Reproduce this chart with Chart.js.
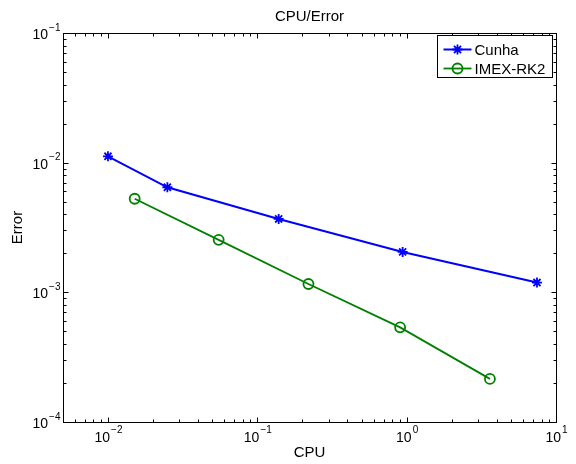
<!DOCTYPE html>
<html>
<head>
<meta charset="utf-8">
<script src="https://cdn.jsdelivr.net/npm/chart.js@4/dist/chart.umd.min.js"></script>
<style>
  html, body { margin: 0; padding: 0; background: #fff; }
  #wrap { width: 576px; height: 464px; }
</style>
</head>
<body>
<div id="wrap"><canvas id="chart" width="576" height="464"></canvas></div>
<script>
// values
const chartTitle = "CPU/Error";
const seriesNames = ["Cunha", "IMEX-RK2"];
const cunhaCpu = [0.01, 0.025, 0.139, 0.94, 7.46];
const cunhaError = [0.0112, 0.00646, 0.00368, 0.00205, 0.00119];
const imexCpu = [0.0151, 0.0551, 0.220, 0.904, 3.61];
const imexError = [0.00527, 0.00254, 0.00116, 0.000537, 0.000215];
const xTickExponents = [-2, -1, 0, 1];
const yTickExponents = [-4, -3, -2, -1];

const fontFamily = "'Liberation Sans', Arial, Helvetica, sans-serif";

function toPoints(xs, ys) {
    return xs.map((x, i) => ({ x: x, y: ys[i] }));
}

function expText(e) {
    return e < 0 ? "\u2212" + Math.abs(e) : String(e);
}

// title, box, inward ticks on all four sides, and 10^n tick labels
const matlabAxes = {
    id: "matlabAxes",
    afterDraw(chart) {
        const ctx = chart.ctx;
        const area = chart.chartArea;
        const xs = chart.scales.x, ys = chart.scales.y;
        ctx.save();

        ctx.fillStyle = "#000";
        ctx.font = "15px " + fontFamily;
        ctx.textAlign = "center";
        ctx.textBaseline = "middle";
        ctx.fillText(chartTitle, (area.left + area.right) / 2, 17);

        ctx.strokeStyle = "#000";
        ctx.lineWidth = 1;
        const L = Math.round(area.left) + 0.5, R = Math.round(area.right) + 0.5;
        const T = Math.round(area.top) + 0.5, B = Math.round(area.bottom) + 0.5;
        ctx.strokeRect(L, T, R - L, B - T);

        ctx.beginPath();
        for (let e = -4; e <= 1; e++) {
            for (let m = 1; m <= 9; m++) {
                const v = m * Math.pow(10, e);
                const len = m === 1 ? 5 : 3;
                if (v >= xs.min * 0.999 && v <= xs.max * 1.001) {
                    const px = Math.round(xs.getPixelForValue(v)) + 0.5;
                    ctx.moveTo(px, B); ctx.lineTo(px, B - len);
                    ctx.moveTo(px, T); ctx.lineTo(px, T + len);
                }
                if (v >= ys.min * 0.999 && v <= ys.max * 1.001) {
                    const py = Math.round(ys.getPixelForValue(v)) + 0.5;
                    ctx.moveTo(L, py); ctx.lineTo(L + len, py);
                    ctx.moveTo(R, py); ctx.lineTo(R - len, py);
                }
            }
        }
        ctx.stroke();

        ctx.fillStyle = "#000";
        ctx.textBaseline = "middle";
        const baseFont = "14px " + fontFamily;
        const supFont = "10px " + fontFamily;
        xTickExponents.forEach(e => {
            const px = xs.getPixelForValue(Math.pow(10, e));
            ctx.font = baseFont;
            const w1 = ctx.measureText("10").width;
            ctx.font = supFont;
            const w2 = ctx.measureText(expText(e)).width;
            const start = px - (w1 + w2) / 2;
            ctx.font = baseFont;
            ctx.textAlign = "left";
            ctx.fillText("10", start, B + 16);
            ctx.font = supFont;
            ctx.fillText(expText(e), start + w1 + 1, B + 8);
        });
        yTickExponents.forEach(e => {
            const py = ys.getPixelForValue(Math.pow(10, e));
            ctx.font = supFont;
            const w2 = ctx.measureText(expText(e)).width;
            ctx.textAlign = "left";
            ctx.fillText(expText(e), L - 3 - w2, py - 5);
            ctx.font = baseFont;
            ctx.textAlign = "right";
            ctx.fillText("10", L - 4 - w2, py + 2);
        });
        ctx.restore();
    }
};

// legend box in the upper right corner of the axes
const boxLegend = {
    id: "boxLegend",
    afterDraw(chart) {
        const ctx = chart.ctx;
        const area = chart.chartArea;
        const w = 115, h = 42;
        const left = Math.round(area.right - 4 - w) + 0.5;
        const top = Math.round(area.top + 2) + 0.5;
        ctx.save();
        ctx.fillStyle = "#fff";
        ctx.fillRect(left, top, w, h);
        ctx.strokeStyle = "#000";
        ctx.lineWidth = 1;
        ctx.strokeRect(left, top, w, h);
        chart.data.datasets.forEach((ds, i) => {
            const y = top + 14 + i * 19;
            ctx.strokeStyle = ds.borderColor;
            ctx.lineWidth = ds.borderWidth;
            ctx.beginPath();
            ctx.moveTo(left + 6, y);
            ctx.lineTo(left + 34, y);
            ctx.stroke();
            ctx.fillStyle = ds.pointBackgroundColor;
            ctx.lineWidth = ds.pointBorderWidth;
            Chart.helpers.drawPoint(ctx, {
                pointStyle: ds.pointStyle,
                radius: ds.pointRadius,
                borderWidth: ds.pointBorderWidth,
                rotation: 0
            }, left + 20, y);
            ctx.fillStyle = "#000";
            ctx.font = "15px " + fontFamily;
            ctx.textAlign = "left";
            ctx.textBaseline = "middle";
            ctx.fillText(ds.label, left + 37, y + 1);
        });
        ctx.restore();
    }
};

new Chart(document.getElementById("chart"), {
    type: "line",
    data: {
        datasets: [
            {
                label: seriesNames[0],
                data: toPoints(cunhaCpu, cunhaError),
                borderColor: "#0000ff",
                borderWidth: 2,
                pointStyle: "star",
                pointRadius: 5,
                pointBorderWidth: 1.8,
                pointBorderColor: "#0000ff",
                pointBackgroundColor: "#0000ff",
                fill: false,
                tension: 0
            },
            {
                label: seriesNames[1],
                data: toPoints(imexCpu, imexError),
                borderColor: "#008000",
                borderWidth: 1.8,
                pointStyle: "circle",
                pointRadius: 5,
                pointBorderWidth: 1.8,
                pointBorderColor: "#008000",
                pointBackgroundColor: "rgba(0,0,0,0)",
                fill: false,
                tension: 0
            }
        ]
    },
    options: {
        responsive: false,
        devicePixelRatio: 1,
        animation: false,
        layout: { padding: { left: 0, right: 20, top: 33, bottom: 0 } },
        plugins: {
            legend: { display: false },
            tooltip: { enabled: false },
            title: { display: false }
        },
        scales: {
            x: {
                type: "logarithmic",
                position: "bottom",
                min: 0.005,
                max: 10,
                grid: { display: false },
                border: { display: false },
                ticks: { display: false },
                title: {
                    display: true,
                    text: "CPU",
                    color: "#000",
                    font: { family: fontFamily, size: 15, lineHeight: 1.2 },
                    padding: { top: 0, bottom: 2 }
                },
                afterFit(scale) { scale.height = 42; }
            },
            y: {
                type: "logarithmic",
                position: "left",
                min: 0.0001,
                max: 0.1,
                grid: { display: false },
                border: { display: false },
                ticks: { display: false },
                title: {
                    display: true,
                    text: "Error",
                    color: "#000",
                    font: { family: fontFamily, size: 15, lineHeight: 1.2 },
                    padding: { top: 9, bottom: 0 }
                },
                afterFit(scale) { scale.width = 63; }
            }
        }
    },
    plugins: [matlabAxes, boxLegend]
});
</script>
</body>
</html>
